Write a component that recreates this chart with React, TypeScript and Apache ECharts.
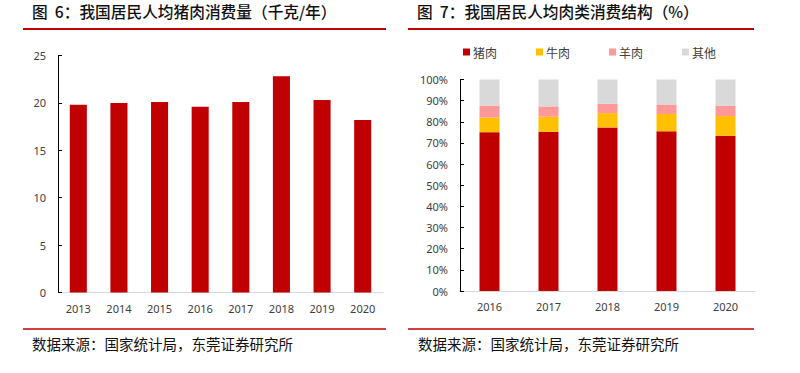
import React, { useEffect, useRef } from "react";
import * as echarts from "echarts";

const leftYears = ["2013", "2014", "2015", "2016", "2017", "2018", "2019", "2020"];
const porkKg = [19.8, 20.0, 20.1, 19.6, 20.1, 22.8, 20.3, 18.2];

const rightYears = ["2016", "2017", "2018", "2019", "2020"];
const porkShare = [75.1, 75.3, 77.3, 75.5, 73.4];
const beefShare = [6.9, 7.1, 6.8, 8.2, 9.3];
const muttonShare = [5.7, 4.9, 4.4, 4.5, 4.8];
const otherShare = [12.3, 12.7, 11.5, 11.8, 12.5];

const seriesNames = ["猪肉", "牛肉", "羊肉", "其他"];
const seriesColors = ["#C00000", "#FFC000", "#FF9999", "#D9D9D9"];

const titleLeft = "图  6：我国居民人均猪肉消费量（千克/年）";
const titleRight = "图  7：我国居民人均肉类消费结构（%）";
const sourceText = "数据来源：国家统计局，东莞证券研究所";

const FONT = "'Noto Sans CJK SC', 'Noto Sans', sans-serif";

export default function App() {
  const ref = useRef<HTMLDivElement>(null);
  useEffect(() => {
    if (!ref.current) return;
    const chart = echarts.init(ref.current, undefined, { renderer: "svg" });
    const axisLabel = { color: "#404040", fontSize: 11, fontFamily: "'Noto Sans', sans-serif" };
    const shares = [porkShare, beefShare, muttonShare, otherShare];
    const titleStyle = { fontSize: 15.7, fontWeight: 500, color: "#111", fontFamily: FONT };
    const footStyle = { fontSize: 14.5, fontWeight: "normal", color: "#111", fontFamily: FONT };
    chart.setOption({
      animation: false,
      backgroundColor: "#ffffff",
      textStyle: { fontFamily: FONT },
      title: [
        { text: titleLeft, left: 32, top: 4, padding: 0, textStyle: titleStyle },
        { text: titleRight, left: 417, top: 4, padding: 0, textStyle: titleStyle },
        { text: sourceText, left: 32, top: 336, padding: 0, textStyle: footStyle },
        { text: sourceText, left: 418, top: 336, padding: 0, textStyle: footStyle },
      ],
      legend: {
        left: 458,
        top: 41,
        itemWidth: 7,
        itemHeight: 7,
        itemGap: 39,
        icon: "rect",
        data: seriesNames,
        textStyle: { fontSize: 12, color: "#404040", fontFamily: FONT, padding: [0, 0, 0, -2] },
      },
      graphic: [
        { type: "line", shape: { x1: 23, y1: 29, x2: 386, y2: 29 }, style: { stroke: "#C00000", lineWidth: 2 } },
        { type: "line", shape: { x1: 408, y1: 29, x2: 754, y2: 29 }, style: { stroke: "#C00000", lineWidth: 2 } },
        { type: "line", shape: { x1: 23, y1: 329, x2: 386, y2: 329 }, style: { stroke: "#C00000", lineWidth: 1.5 } },
        { type: "line", shape: { x1: 408, y1: 329, x2: 754, y2: 329 }, style: { stroke: "#C00000", lineWidth: 1.5 } },
      ],
      grid: [
        { left: 58, right: 417, top: 55.5, bottom: 80.5 },
        { left: 460, right: 45, top: 79.5, bottom: 82 },
      ],
      xAxis: [
        {
          type: "category",
          gridIndex: 0,
          data: leftYears,
          axisLine: { lineStyle: { color: "#D9D9D9", width: 1 } },
          axisTick: { show: false },
          axisLabel: { ...axisLabel, margin: 10 },
        },
        {
          type: "category",
          gridIndex: 1,
          data: rightYears,
          axisLine: { lineStyle: { color: "#D9D9D9", width: 1 } },
          axisTick: { show: false },
          axisLabel: { ...axisLabel, margin: 10 },
        },
      ],
      yAxis: [
        {
          type: "value",
          gridIndex: 0,
          min: 0,
          max: 25,
          interval: 5,
          axisLine: { show: true, lineStyle: { color: "#000", width: 1 } },
          axisTick: { show: true, inside: true, length: 4, lineStyle: { color: "#000" } },
          splitLine: { show: false },
          axisLabel: { ...axisLabel, margin: 12 },
        },
        {
          type: "value",
          gridIndex: 1,
          min: 0,
          max: 100,
          interval: 10,
          axisLine: { show: true, lineStyle: { color: "#000", width: 1 } },
          axisTick: { show: true, inside: true, length: 4, lineStyle: { color: "#000" } },
          splitLine: { show: false },
          axisLabel: { ...axisLabel, margin: 12, formatter: "{value}%" },
        },
      ],
      series: [
        {
          type: "bar",
          xAxisIndex: 0,
          yAxisIndex: 0,
          data: porkKg,
          barWidth: "42%",
          itemStyle: { color: "#C00000" },
        },
        ...seriesNames.map((name, i) => ({
          type: "bar",
          name,
          xAxisIndex: 1,
          yAxisIndex: 1,
          stack: "share",
          data: shares[i],
          barWidth: 20,
          itemStyle: { color: seriesColors[i] },
        })),
      ],
    });
    return () => chart.dispose();
  }, []);
  return (
    <div
      ref={ref}
      style={{ position: "fixed", left: 0, top: 0, width: 800, height: 373, background: "#fff" }}
    />
  );
}
